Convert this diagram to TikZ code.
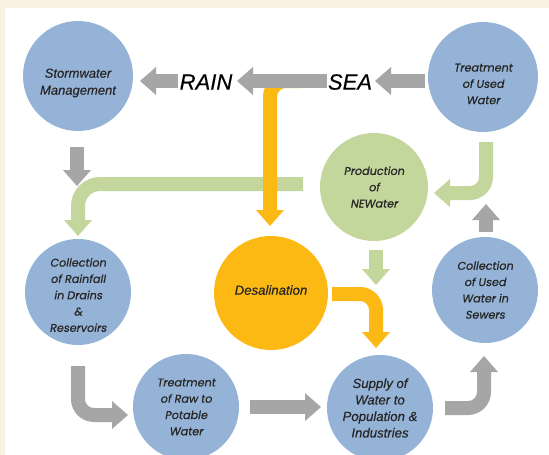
\documentclass[tikz,border=0pt]{standalone}
\usepackage{fontspec}
\setmainfont{Liberation Sans}[FakeBold=0.35]
\newfontfamily\gothic{Poppins}[FakeSlant=0.18, FakeBold=0.7]
\usetikzlibrary{calc}
\definecolor{bluec}{HTML}{95B3D7}
\definecolor{greenc}{HTML}{C3D69B}
\definecolor{orangec}{HTML}{FDB913}
\definecolor{grayc}{HTML}{A6A6A6}
\definecolor{creamc}{HTML}{FAF1E2}
\definecolor{txtc}{HTML}{262626}
\tikzset{
  bubble/.style={circle, minimum size=#1, inner sep=0pt},
  ttxt/.style={align=center, text=txtc, font=\gothic\fontsize{11.2}{16.3}\selectfont},
  atxt/.style={align=center, text=txtc, font=\itshape\fontsize{13}{17}\selectfont},
  bigtxt/.style={text=black, font=\itshape\fontsize{22}{22}\selectfont, inner sep=0pt},
  shaft/.style={line width=14pt},
  hd/.pic={\fill (0,0) -- (-16,14) -- (-16,-14) -- cycle;}
}
\begin{document}
\begin{tikzpicture}[x=1pt,y=-1pt]
\useasboundingbox (0,0) rectangle (549,455);
\fill[creamc] (0,0) rectangle (549,455);
\fill[white] (5,8) rectangle (549,455);

% circles
\node[bubble=110pt, fill=bluec] (SW) at (78,76) {};
\node[bubble=110pt, fill=bluec] (TU) at (483,77) {};
\node[bubble=108pt, fill=greenc] (PN) at (374,187) {};
\node[bubble=106pt, fill=bluec] (CR) at (78,292) {};
\node[bubble=114pt, fill=orangec] (DS) at (271,293) {};
\node[bubble=106pt, fill=bluec] (CU) at (485,290) {};
\node[bubble=106pt, fill=bluec] (TR) at (186,407) {};
\node[bubble=106pt, fill=bluec] (SP) at (380,408) {};

% texts
\node[atxt] (SWt) at (78,83) {Stormwater\\Management};
\node[ttxt] (TUt) at (483,84) {Treatment\\of Used\\Water};
\node[ttxt] (PNt) at (374,187) {Production\\of\\NEWater};
\node[ttxt] (CRt) at (78,295) {Collection\\of Rainfall\\in Drains\\\&\\Reservoirs};
\node[atxt, font=\itshape\fontsize{13.2}{17}\selectfont] (DSt) at (271,290) {Desalination};
\node[ttxt] (CUt) at (485,290) {Collection\\of Used\\Water in\\Sewers};
\node[ttxt] (TRt) at (186,407) {Treatment\\of Raw to\\Potable\\Water};
\node[atxt, font=\itshape\fontsize{13.2}{16.5}\selectfont] (SPt) at (380,408) {Supply of\\Water to\\Population \&\\Industries};
\node[bigtxt] (RAIN) at (206,82) {RAIN};
\node[bigtxt] (SEA) at (350,82) {SEA};

% connector end points
\coordinate (g1s) at (425,81);  \coordinate (g1e) at (375,81);
\coordinate (g2s) at (327,81);  \coordinate (g2e) at (237,81);
\coordinate (g3s) at (178,81);  \coordinate (g3e) at (140,81);
\coordinate (o1s) at (300,81);  \coordinate (o1e) at (270,226);
\coordinate (n1s) at (303,184); \coordinate (n1e) at (78,236);
\coordinate (n2s) at (486,142); \coordinate (n2e) at (434,193);
\coordinate (g4s) at (486,232); \coordinate (g4e) at (486,204);
\coordinate (g5s) at (77,147);  \coordinate (g5e) at (77,186);
\coordinate (n3s) at (376,250); \coordinate (n3e) at (376,285);
\coordinate (o2s) at (332,294); \coordinate (o2e) at (376,348);
\coordinate (g6s) at (78,366);  \coordinate (g6e) at (128,415);
\coordinate (g7s) at (250,407); \coordinate (g7e) at (321,407);
\coordinate (g8s) at (445,408); \coordinate (g8e) at (484,356);

% green connectors
\draw[shaft, greenc, rounded corners=22pt] (n1s) -- (n1e |- n1s) -- ($(n1e)+(0,-15)$);
\pic[greenc, rotate=-90] at (n1e) {hd};
\draw[shaft, greenc, rounded corners=16pt] (n2s) -- (n2s |- n2e) -- ($(n2e)+(15,0)$);
\pic[greenc, rotate=180] at (n2e) {hd};
\draw[shaft, greenc] (n3s) -- ($(n3e)+(0,-15)$);
\pic[greenc, rotate=-90] at (n3e) {hd};

% orange connectors
\draw[shaft, orangec, rounded corners=16pt] (o1s) -- (o1e |- o1s) -- ($(o1e)+(0,-15)$);
\pic[orangec, rotate=-90] at (o1e) {hd};
\draw[shaft, orangec, rounded corners=16pt] (o2s) -- (o2e |- o2s) -- ($(o2e)+(0,-15)$);
\pic[orangec, rotate=-90] at (o2e) {hd};

% gray connectors
\draw[shaft, grayc] (g1s) -- ($(g1e)+(15,0)$);
\pic[grayc, rotate=180] at (g1e) {hd};
\draw[shaft, grayc] (g2s) -- ($(g2e)+(15,0)$);
\pic[grayc, rotate=180] at (g2e) {hd};
\draw[shaft, grayc] (g3s) -- ($(g3e)+(15,0)$);
\pic[grayc, rotate=180] at (g3e) {hd};
\draw[shaft, grayc] (g4s) -- ($(g4e)+(0,15)$);
\pic[grayc, rotate=90] at (g4e) {hd};
\draw[shaft, grayc] (g5s) -- ($(g5e)+(0,-15)$);
\pic[grayc, rotate=-90] at (g5e) {hd};
\draw[shaft, grayc, rounded corners=16pt] (g6s) -- (g6s |- g6e) -- ($(g6e)+(-15,0)$);
\pic[grayc] at (g6e) {hd};
\draw[shaft, grayc] (g7s) -- ($(g7e)+(-15,0)$);
\pic[grayc] at (g7e) {hd};
\draw[shaft, grayc, rounded corners=16pt] (g8s) -- (g8e |- g8s) -- ($(g8e)+(0,15)$);
\pic[grayc, rotate=90] at (g8e) {hd};
\end{tikzpicture}
\end{document}
